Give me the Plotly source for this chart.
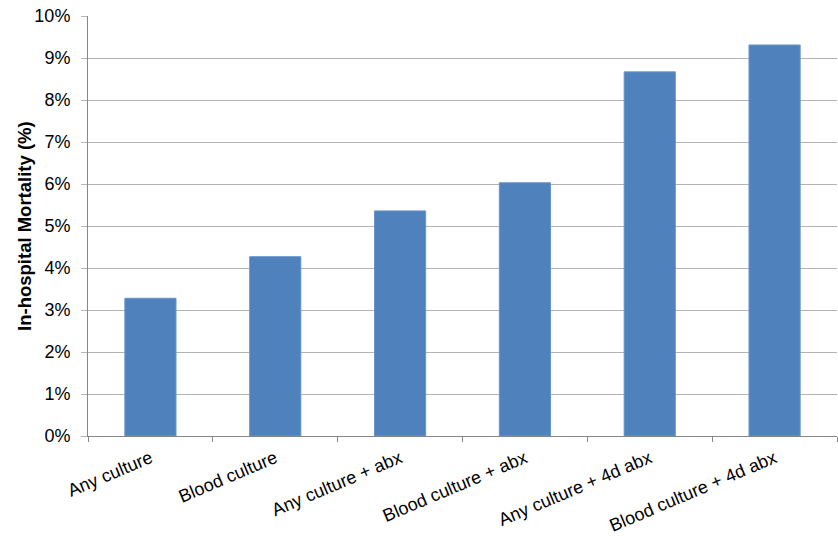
import plotly.graph_objects as go

categories = ["Any culture", "Blood culture", "Any culture + abx",
              "Blood culture + abx", "Any culture + 4d abx", "Blood culture + 4d abx"]
mortality = [3.28, 4.27, 5.36, 6.03, 8.67, 9.31]
y_ticks = [0, 1, 2, 3, 4, 5, 6, 7, 8, 9, 10]
y_tick_labels = [f"{v}%" for v in y_ticks]
y_title = "In-hospital Mortality (%)"

fig = go.Figure(go.Bar(
    x=categories, y=mortality,
    marker=dict(color="#4f81bd", line=dict(color="#6a95cc", width=1)),
))

fig.update_layout(
    width=838, height=551,
    margin=dict(l=88, r=1, t=16, b=115),
    paper_bgcolor="white", plot_bgcolor="white",
    bargap=0.59,
    showlegend=False,
    font=dict(family="Liberation Sans, Arial, sans-serif", size=18, color="#000000"),
    annotations=[dict(
        text=f"<b>{y_title}</b>", textangle=-90,
        xref="paper", yref="paper", x=-0.0855, y=0.5,
        xanchor="center", yanchor="middle", showarrow=False,
        font=dict(size=18.5),
    )],
)
fig.update_xaxes(
    tickangle=-23, tickfont=dict(size=18),
    ticks="outside", tickson="boundaries", ticklen=5, tickcolor="#868686",
    ticklabelstandoff=4,
    showline=True, linecolor="#868686", linewidth=1,
    showgrid=False,
)
fig.update_yaxes(
    range=[0, 10], tickvals=y_ticks, ticktext=y_tick_labels,
    tickfont=dict(size=18),
    ticks="outside", ticklen=6, tickcolor="#b3b3b3", ticklabelstandoff=7,
    showgrid=True, gridcolor="#b3b3b3", gridwidth=1,
    showline=True, linecolor="#868686", linewidth=1,
    zeroline=False,
)

fig.write_html("out.html")
